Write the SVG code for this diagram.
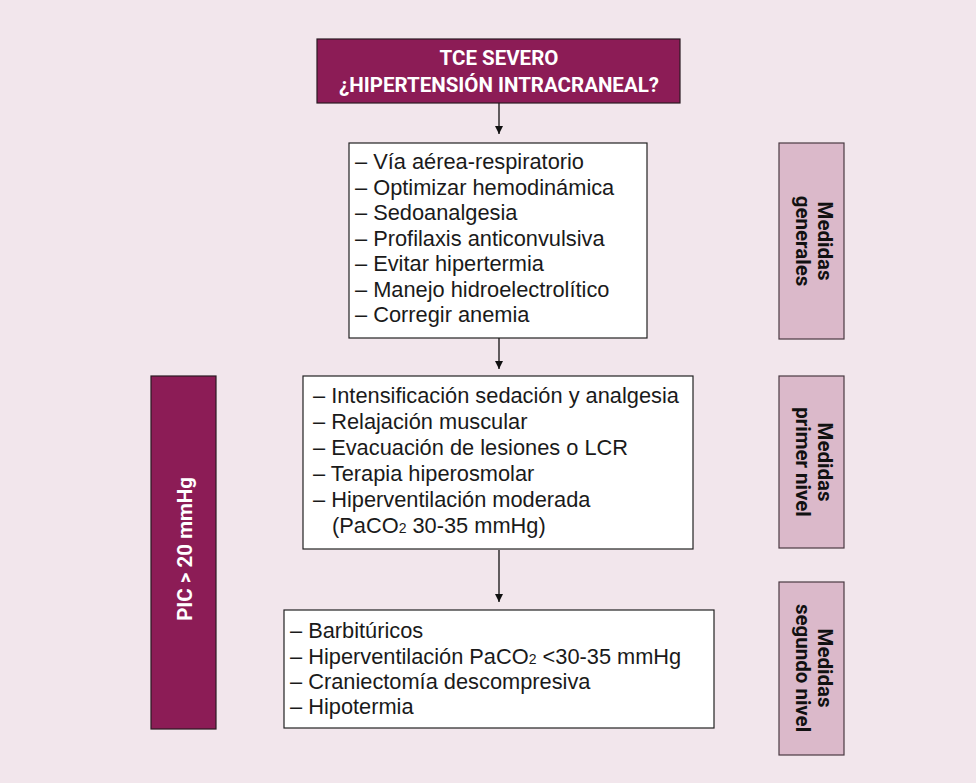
<svg xmlns="http://www.w3.org/2000/svg" width="976" height="783" viewBox="0 0 976 783">
<style>
.bg{fill:#f2e6ec}
.dark{fill:#8c1c56;stroke:#2a1a22;stroke-width:1.2}
.box{fill:#ffffff;stroke:#222;stroke-width:1.2}
.side{fill:#dbb9ca;stroke:#4a3a42;stroke-width:1.2}
.t{font-family:"Liberation Sans","Open Sans",sans-serif;font-size:21.8px;fill:#1a1a1a}
.h{font-family:Roboto,"Liberation Sans",sans-serif;font-weight:bold;font-size:20.5px;fill:#fff;text-anchor:middle}
.s{font-family:Roboto,"Liberation Sans",sans-serif;font-weight:bold;font-size:20.5px;fill:#111;text-anchor:middle}
.p{font-family:Roboto,"Liberation Sans",sans-serif;font-weight:bold;font-size:20.5px;fill:#fff;text-anchor:middle}
.c{stroke:#111;stroke-width:1.3;fill:none}
</style>
<defs>
<marker id="ah" viewBox="0 0 10 10" refX="10" refY="5" markerWidth="8" markerHeight="8" markerUnits="userSpaceOnUse" orient="auto">
<path d="M0,0 L10,5 L0,10 z" fill="#111"/>
</marker>
</defs>
<rect class="bg" x="0" y="0" width="976" height="783"/>
<g id="connectors">
<line class="c" x1="499" y1="103" x2="499" y2="134" marker-end="url(#ah)"/>
<line class="c" x1="499" y1="338" x2="499" y2="369" marker-end="url(#ah)"/>
<line class="c" x1="499" y1="550" x2="499" y2="602" marker-end="url(#ah)"/>
</g>
<g id="top">
<rect class="dark" x="317" y="39" width="363" height="64"/>
<text class="h" x="499" y="65">TCE SEVERO</text>
<text class="h" x="499" y="92">¿HIPERTENSIÓN INTRACRANEAL?</text>
</g>
<g id="generales">
<rect class="box" x="349" y="143" width="298" height="195"/>
<text class="t" x="355" y="169">– Vía aérea-respiratorio</text>
<text class="t" x="355" y="195">– Optimizar hemodinámica</text>
<text class="t" x="355" y="220">– Sedoanalgesia</text>
<text class="t" x="355" y="246">– Profilaxis anticonvulsiva</text>
<text class="t" x="355" y="271">– Evitar hipertermia</text>
<text class="t" x="355" y="297">– Manejo hidroelectrolítico</text>
<text class="t" x="355" y="322">– Corregir anemia</text>
</g>
<g id="primer">
<rect class="box" x="303" y="376" width="390" height="173"/>
<text class="t" x="313" y="403">– Intensificación sedación y analgesia</text>
<text class="t" x="313" y="429">– Relajación muscular</text>
<text class="t" x="313" y="455">– Evacuación de lesiones o LCR</text>
<text class="t" x="313" y="481">– Terapia hiperosmolar</text>
<text class="t" x="313" y="507">– Hiperventilación moderada</text>
<text class="t" x="332" y="533">(PaCO<tspan font-size="14">2</tspan> 30-35 mmHg)</text>
</g>
<g id="segundo">
<rect class="box" x="284" y="610" width="430" height="118"/>
<text class="t" x="290" y="638">– Barbitúricos</text>
<text class="t" x="290" y="664">– Hiperventilación PaCO<tspan font-size="14">2</tspan> &lt;30-35 mmHg</text>
<text class="t" x="290" y="689">– Craniectomía descompresiva</text>
<text class="t" x="290" y="714">– Hipotermia</text>
</g>
<g id="pic">
<rect class="dark" x="151" y="376" width="65" height="353"/>
<text class="p" transform="translate(192,549) rotate(-90)">PIC &gt; 20 mmHg</text>
</g>
<g id="lbl-generales">
<rect class="side" x="779" y="143" width="65" height="196"/>
<text class="s" transform="translate(818,241) rotate(90)"><tspan x="0" y="0">Medidas</tspan><tspan x="0" y="22">generales</tspan></text>
</g>
<g id="lbl-primer">
<rect class="side" x="779" y="376" width="65" height="172"/>
<text class="s" transform="translate(818,462) rotate(90)"><tspan x="0" y="0">Medidas</tspan><tspan x="0" y="22">primer nivel</tspan></text>
</g>
<g id="lbl-segundo">
<rect class="side" x="779" y="582" width="65" height="173"/>
<text class="s" transform="translate(818,668) rotate(90)"><tspan x="0" y="0">Medidas</tspan><tspan x="0" y="22">segundo nivel</tspan></text>
</g>
</svg>
